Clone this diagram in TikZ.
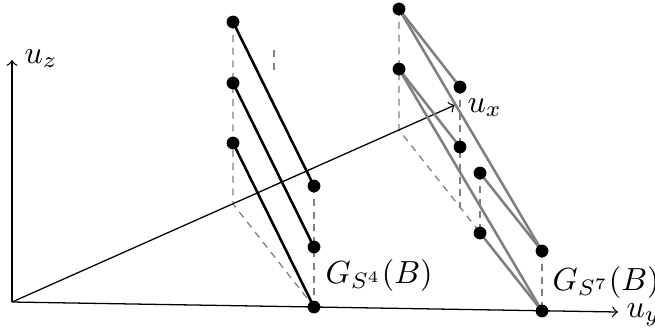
\documentclass[tikz,border=0pt]{standalone}
\begin{document}
\begin{tikzpicture}[x=0.3125pt,y=-0.3125pt,
  dot/.style={circle,fill=black,inner sep=0pt,minimum size=4pt},
  axis/.style={line width=0.4pt,->},
  blk/.style={line width=0.8pt,black},
  gry/.style={line width=0.8pt,black!50},
  proj/.style={black!50,line width=0.4pt,dash pattern=on 2.2pt off 1.8pt},
  lbl/.style={inner sep=0pt,anchor=base west,font=\fontsize{9.6}{11}\selectfont}]
\useasboundingbox (0,0) rectangle (655,329);
% axes points
\coordinate (O) at (12,302);
\coordinate (Zt) at (12,60);
\coordinate (Yt) at (618,312);
\coordinate (Xt) at (455,105);
% left group
\coordinate (A1) at (233,22);
\coordinate (A2) at (233,83);
\coordinate (A3) at (233,143);
\coordinate (B1) at (314,186);
\coordinate (B2) at (314,247);
\coordinate (B3) at (314,307);
\coordinate (X1) at (233,204);
\coordinate (T1) at (274,50);
\coordinate (T2) at (274,75);
% right group
\coordinate (C1) at (399,9);
\coordinate (C2) at (399,69);
\coordinate (X2) at (399,130);
\coordinate (D1) at (460,87);
\coordinate (D2) at (460,147);
\coordinate (DB) at (460,208);
\coordinate (E1) at (480,173);
\coordinate (E2) at (480,233);
\coordinate (F1) at (542,251);
\coordinate (F2) at (542,311);
% projection lines
\draw[proj] (A1) -- (X1) -- (B3);
\draw[proj] (B1) -- (B3);
\draw[proj] (T1) -- (T2);
\draw[proj] (C1) -- (X2) -- (F2);
\draw[proj] (D1) -- (DB);
\draw[proj] (E1) -- (E2);
\draw[proj] (F1) -- (F2);
% axes
\draw[axis] (O) -- (Zt);
\draw[axis] (O) -- (Yt);
\draw[axis] (O) -- (Xt);
\node[lbl] (lz) at (24,63) {$u_z$};
\node[lbl] (lx) at (467,112) {$u_x$};
\node[lbl] (ly) at (626,317) {$u_y$};
% edges
\draw[blk] (A1) -- (B1);
\draw[blk] (A2) -- (B2);
\draw[blk] (A3) -- (B3);
\draw[gry] (C1) -- (D1);
\draw[gry] (C1) -- (F1);
\draw[gry] (C2) -- (D2);
\draw[gry] (C2) -- (F2);
\draw[gry] (E1) -- (F1);
\draw[gry] (E2) -- (F2);
% dots
\foreach \p in {A1,A2,A3,B1,B2,B3,C1,C2,D1,D2,E1,E2,F1,F2}
  \node[dot] (d\p) at (\p) {};
% labels
\node[lbl] (g4) at (325,283) {$G_{S^4}(B)$};
\node[lbl] (g7) at (552,290) {$G_{S^7}(B)$};
\end{tikzpicture}
\end{document}
